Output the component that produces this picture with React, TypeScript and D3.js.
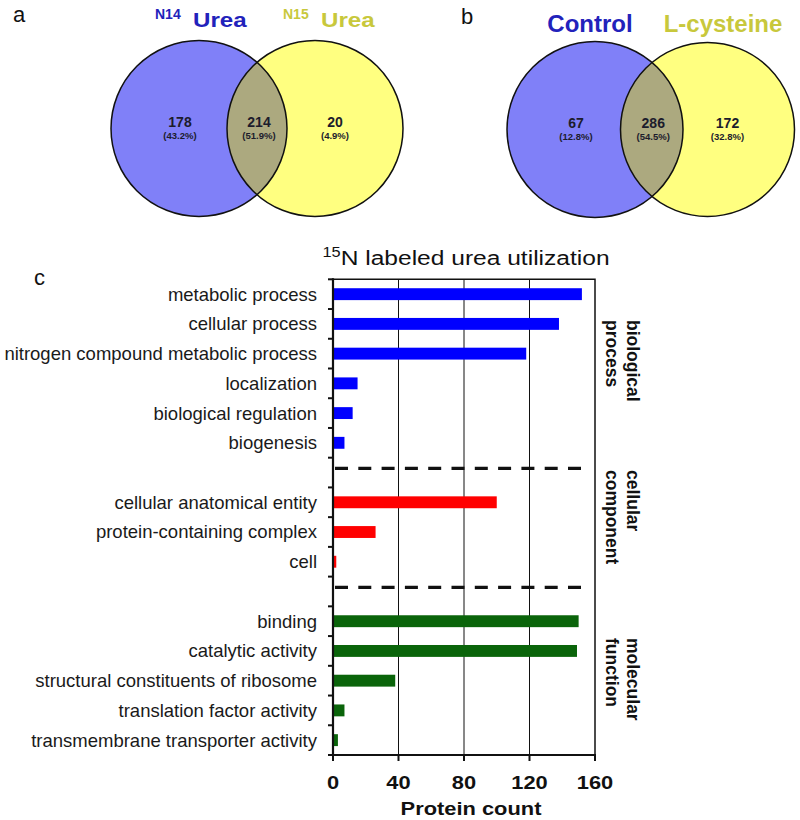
import * as d3 from "d3";
import { useEffect, useRef } from "react";

// GO categories and protein counts
const bioCategories = [
  "metabolic process",
  "cellular process",
  "nitrogen compound metabolic process",
  "localization",
  "biological regulation",
  "biogenesis",
];
const bioCounts = [152, 138, 118, 15, 12, 7];

const ccCategories = ["cellular anatomical entity", "protein-containing complex", "cell"];
const ccCounts = [100, 26, 2];

const mfCategories = [
  "binding",
  "catalytic activity",
  "structural constituents of ribosome",
  "translation factor activity",
  "transmembrane transporter activity",
];
const mfCounts = [150, 149, 38, 7, 3];

const xTicks = [0, 40, 80, 120, 160];

// venn diagrams: [left only, shared, right only]
const vennANames = ["Urea", "Urea"];
const vennASup = ["N14", "N15"];
const vennACounts = [178, 214, 20];
const vennAPct = ["43.2%", "51.9%", "4.9%"];

const vennBNames = ["Control", "L-cysteine"];
const vennBCounts = [67, 286, 172];
const vennBPct = ["12.8%", "54.5%", "32.8%"];

const FONT = "'Liberation Sans', Arial, sans-serif";
const BLUE_TXT = "#2222bb";
const YEL_TXT = "#c8c83c";

const App = () => {
  const ref = useRef<SVGSVGElement | null>(null);

  useEffect(() => {
    const svg = d3.select(ref.current);
    svg.selectAll("*").remove();
    svg.style("font-family", FONT);

    // ---------- Venn diagrams ----------
    const drawVenn = (
      id: string,
      cx1: number,
      cx2: number,
      cy: number,
      r1: number,
      r2: number,
      counts: number[],
      pcts: string[]
    ) => {
      const g = svg.append("g");
      g.append("defs")
        .append("clipPath")
        .attr("id", id)
        .append("circle")
        .attr("cx", cx1)
        .attr("cy", cy)
        .attr("r", r1);
      g.append("circle").attr("cx", cx1).attr("cy", cy).attr("r", r1).attr("fill", "#8080f8");
      g.append("circle").attr("cx", cx2).attr("cy", cy).attr("r", r2).attr("fill", "#ffff80");
      g.append("circle")
        .attr("cx", cx2)
        .attr("cy", cy)
        .attr("r", r2)
        .attr("fill", "#aca97f")
        .attr("clip-path", `url(#${id})`);
      [
        [cx1, r1],
        [cx2, r2],
      ].forEach(([cx, r]) => {
        g.append("circle")
          .attr("cx", cx)
          .attr("cy", cy)
          .attr("r", r)
          .attr("fill", "none")
          .attr("stroke", "#111")
          .attr("stroke-width", 1.5);
      });
      const xs = [cx1 - 19, (cx1 + cx2) / 2 + 2, cx2 + 20];
      counts.forEach((c, i) => {
        g.append("text")
          .attr("x", xs[i])
          .attr("y", cy - 2)
          .attr("text-anchor", "middle")
          .attr("font-size", 14)
          .attr("font-weight", "bold")
          .attr("fill", "#1c1c2c")
          .text(c);
        g.append("text")
          .attr("x", xs[i])
          .attr("y", cy + 10.5)
          .attr("text-anchor", "middle")
          .attr("font-size", 9.5)
          .attr("font-weight", "bold")
          .attr("fill", "#1c1c2c")
          .text(`(${pcts[i]})`);
      });
    };

    drawVenn("clipA", 199, 315, 128.5, 88, 88, vennACounts, vennAPct);
    drawVenn("clipB", 595, 707.5, 129.5, 88, 87, vennBCounts, vennBPct);

    // venn titles
    [
      { x: 155, color: BLUE_TXT },
      { x: 283, color: YEL_TXT },
    ].forEach((t, i) => {
      svg.append("text")
        .attr("x", t.x)
        .attr("y", 18.5)
        .attr("font-size", 14)
        .attr("font-weight", "bold")
        .attr("fill", t.color)
        .text(vennASup[i]);
      svg.append("text")
        .attr("transform", `translate(${t.x + 38},26.5) scale(1.15,1)`)
        .attr("font-size", 21)
        .attr("font-weight", "bold")
        .attr("fill", t.color)
        .text(vennANames[i]);
    });
    [
      { x: 590, color: BLUE_TXT },
      { x: 723, color: YEL_TXT },
    ].forEach((t, i) => {
      svg.append("text")
        .attr("x", t.x)
        .attr("y", 32)
        .attr("text-anchor", "middle")
        .attr("font-size", 24)
        .attr("font-weight", "bold")
        .attr("fill", t.color)
        .text(vennBNames[i]);
    });

    // panel letters
    [
      { t: "a", x: 13, y: 22 },
      { t: "b", x: 461, y: 24 },
      { t: "c", x: 34, y: 285 },
    ].forEach((p) => {
      svg.append("text")
        .attr("x", p.x)
        .attr("y", p.y)
        .attr("font-size", 22)
        .attr("fill", "#111")
        .text(p.t);
    });

    // ---------- bar chart ----------
    const left = 333,
      right = 595,
      top = 279.3,
      bottom = 755;

    const rows = [...bioCategories, "__gap1", ...ccCategories, "__gap2", ...mfCategories];
    const bars = [
      ...bioCategories.map((c, i) => ({ cat: c, value: bioCounts[i], color: "#0000ff" })),
      ...ccCategories.map((c, i) => ({ cat: c, value: ccCounts[i], color: "#ff0000" })),
      ...mfCategories.map((c, i) => ({ cat: c, value: mfCounts[i], color: "#0a640a" })),
    ];

    const xScale = d3.scaleLinear().domain([0, 160]).range([left, right]);
    const yScale = d3.scaleBand().domain(rows).range([top, bottom]).padding(0);
    const bw = yScale.bandwidth();
    const barH = bw * 0.4;

    const chart = svg.append("g");

    // gridlines
    chart
      .selectAll("line.grid")
      .data(xTicks.slice(1, -1))
      .join("line")
      .attr("x1", (d) => xScale(d))
      .attr("x2", (d) => xScale(d))
      .attr("y1", top)
      .attr("y2", bottom)
      .attr("stroke", "#111")
      .attr("stroke-width", 1);

    // bars
    chart
      .selectAll("rect.bar")
      .data(bars)
      .join("rect")
      .attr("x", xScale(0))
      .attr("y", (d) => (yScale(d.cat) ?? 0) + (bw - barH) / 2)
      .attr("width", (d) => xScale(d.value) - xScale(0))
      .attr("height", barH)
      .attr("fill", (d) => d.color);

    // dashed separators
    chart
      .selectAll("line.sep")
      .data(["__gap1", "__gap2"])
      .join("line")
      .attr("x1", xScale(0) + 2)
      .attr("x2", xScale(155))
      .attr("y1", (d) => (yScale(d) ?? 0) + bw * 0.36)
      .attr("y2", (d) => (yScale(d) ?? 0) + bw * 0.36)
      .attr("stroke", "#111")
      .attr("stroke-width", 3.2)
      .attr("stroke-dasharray", "13 10.3");

    // frame: top and right
    chart
      .append("path")
      .attr("d", `M${left},${top}H${right}V${bottom}`)
      .attr("fill", "none")
      .attr("stroke", "#111")
      .attr("stroke-width", 1.5);

    // left axis with band-boundary ticks
    const boundaries = rows.map((r) => yScale(r) ?? 0).concat([bottom]);
    chart
      .append("line")
      .attr("x1", left)
      .attr("x2", left)
      .attr("y1", top - 1)
      .attr("y2", bottom + 1)
      .attr("stroke", "#111")
      .attr("stroke-width", 2.2);
    chart
      .selectAll("line.ytick")
      .data(boundaries)
      .join("line")
      .attr("x1", left - 5)
      .attr("x2", left)
      .attr("y1", (d) => d)
      .attr("y2", (d) => d)
      .attr("stroke", "#111")
      .attr("stroke-width", 2);

    // category labels
    chart
      .selectAll("text.cat")
      .data(bars)
      .join("text")
      .attr("x", left - 16)
      .attr("y", (d) => (yScale(d.cat) ?? 0) + bw / 2)
      .attr("dy", "0.35em")
      .attr("text-anchor", "end")
      .attr("font-size", 18.5)
      .attr("fill", "#1a1a1a")
      .text((d) => d.cat);

    // bottom axis
    chart
      .append("line")
      .attr("x1", left - 1)
      .attr("x2", right + 1)
      .attr("y1", bottom)
      .attr("y2", bottom)
      .attr("stroke", "#111")
      .attr("stroke-width", 2.2);
    chart
      .selectAll("line.xtick")
      .data(xTicks)
      .join("line")
      .attr("x1", (d) => xScale(d))
      .attr("x2", (d) => xScale(d))
      .attr("y1", bottom)
      .attr("y2", bottom + 6)
      .attr("stroke", "#111")
      .attr("stroke-width", 2);
    chart
      .selectAll("text.xtick")
      .data(xTicks)
      .join("text")
      .attr("transform", (d) => `translate(${xScale(d)},789) scale(1.25,1)`)
      .attr("text-anchor", "middle")
      .attr("font-size", 17.5)
      .attr("font-weight", "bold")
      .attr("fill", "#111")
      .text((d) => d);

    chart
      .append("text")
      .attr("transform", "translate(471,815) scale(1.25,1)")
      .attr("text-anchor", "middle")
      .attr("font-size", 17.5)
      .attr("font-weight", "bold")
      .attr("fill", "#111")
      .text("Protein count");

    // title
    const title = chart
      .append("text")
      .attr("transform", "translate(466,265) scale(1.17,1)")
      .attr("text-anchor", "middle")
      .attr("font-size", 21)
      .attr("fill", "#111");
    title.append("tspan").attr("font-size", 14).attr("dy", -8).text("15");
    title.append("tspan").attr("dy", 8).text("N labeled urea utilization");

    // group labels (rotated)
    const groupLabels = [
      { lines: ["biological", "process"], y: 320 },
      { lines: ["cellular", "component"], y: 470 },
      { lines: ["molecular", "function"], y: 638 },
    ];
    groupLabels.forEach((gl) => {
      const t = chart
        .append("text")
        .attr("transform", `translate(627,${gl.y}) rotate(90)`)
        .attr("font-size", 17.5)
        .attr("font-weight", "bold")
        .attr("fill", "#111");
      gl.lines.forEach((ln, i) => {
        t.append("tspan")
          .attr("x", 0)
          .attr("y", i * 21)
          .text(ln);
      });
    });
  }, []);

  return (
    <svg
      ref={ref}
      width={800}
      height={820}
      style={{ position: "absolute", left: 0, top: 0, background: "#fff" }}
    ></svg>
  );
};

export default App;
